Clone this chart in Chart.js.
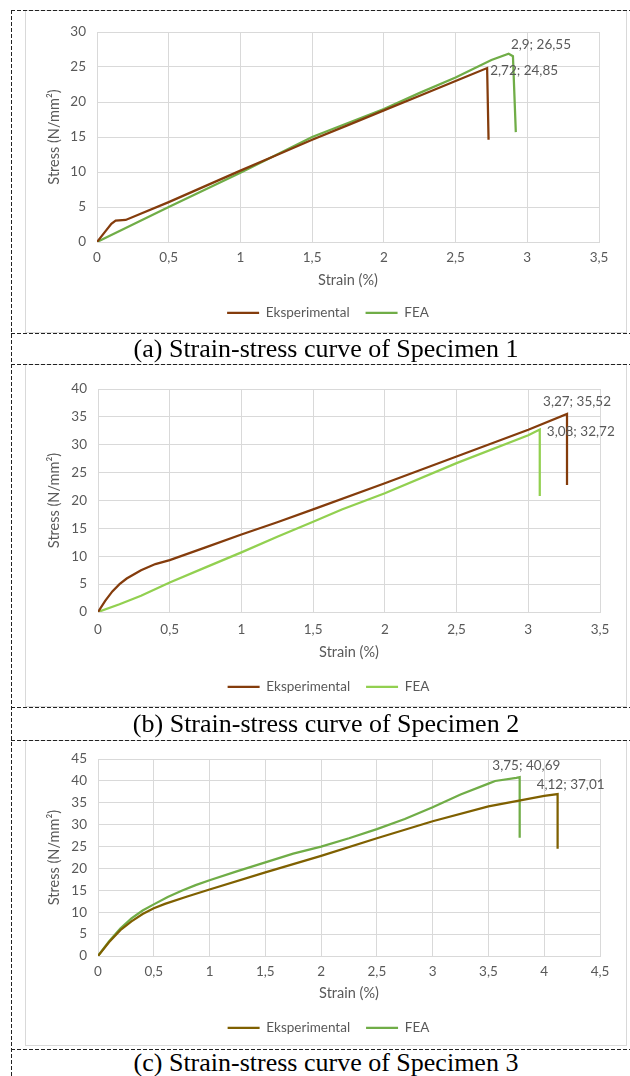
<!DOCTYPE html>
<html>
<head>
<meta charset="utf-8">
<script src="https://cdn.jsdelivr.net/npm/chart.js@4"></script>
<style>
  body { margin: 0; background: #fff; width: 630px; height: 1076px; overflow: hidden; position: relative; }
  .frame { position: absolute; left: 25px; width: 600px; border: 1px solid #d9d9d9; }
  .frame canvas { position: absolute; left: -1px; top: -1px; }
  .hd { position: absolute; left: 11px; width: 619px; height: 1px;
        background: repeating-linear-gradient(to right, #222 0 4px, transparent 4px 6px); }
  .vd { position: absolute; left: 11px; width: 1px; top: 10px; height: 1066px;
        background: repeating-linear-gradient(to bottom, #222 0 4px, transparent 4px 6px); }
  .cap { position: absolute; left: 25px; width: 602px; text-align: center;
         font-family: "Liberation Serif", serif; font-size: 26px; color: #000; }
</style>
</head>
<body>

<div class="frame" style="top:10px;height:321px;"><canvas id="c1" width="602" height="323"></canvas></div>
<div class="frame" style="top:364px;height:341px;"><canvas id="c2" width="602" height="343"></canvas></div>
<div class="frame" style="top:740px;height:304px;"><canvas id="c3" width="602" height="306"></canvas></div>

<div class="vd"></div>
<div class="hd" style="top:10px"></div>
<div class="hd" style="top:333px"></div>
<div class="hd" style="top:364px"></div>
<div class="hd" style="top:707px"></div>
<div class="hd" style="top:740px"></div>
<div class="hd" style="top:1049px"></div>

<div class="cap" style="top:333px;line-height:31px;">(a) Strain-stress curve of Specimen 1</div>
<div class="cap" style="top:708px;line-height:32px;">(b) Strain-stress curve of Specimen 2</div>
<div class="cap" style="top:1049px;line-height:27px;">(c) Strain-stress curve of Specimen 3</div>

<script>
/* ---------- data (strain %, stress N/mm2) ---------- */

// Specimen 1
var strain1Eks = [0, 0.05, 0.1, 0.13, 0.2, 0.3, 0.5, 0.75, 1, 1.25, 1.5, 1.75, 2, 2.25, 2.5, 2.72, 2.73];
var stress1Eks = [0, 1.3, 2.6, 3.05, 3.15, 4.0, 5.7, 7.95, 10.2, 12.4, 14.6, 16.7, 18.8, 20.9, 23.0, 24.85, 14.6];
var strain1Fea = [0, 0.5, 1, 1.5, 2, 2.25, 2.5, 2.75, 2.87, 2.9, 2.92];
var stress1Fea = [0, 5.0, 9.9, 15.0, 19.0, 21.3, 23.5, 26.0, 26.9, 26.55, 15.7];

// Specimen 2
var strain2Eks = [0, 0.05, 0.1, 0.15, 0.2, 0.3, 0.4, 0.5, 0.75, 1, 1.25, 1.5, 2, 2.5, 3, 3.27, 3.27];
var stress2Eks = [0, 2.0, 3.7, 5.0, 6.0, 7.5, 8.6, 9.3, 11.6, 13.9, 16.1, 18.4, 23.1, 27.9, 32.7, 35.52, 22.8];
var strain2Fea = [0, 0.15, 0.3, 0.5, 0.75, 1, 1.25, 1.5, 1.7, 2, 2.5, 3, 3.08, 3.08];
var stress2Fea = [0, 1.4, 2.9, 5.3, 8.0, 10.7, 13.5, 16.2, 18.4, 21.3, 26.7, 31.7, 32.72, 20.8];

// Specimen 3
var strain3Eks = [0, 0.1, 0.2, 0.3, 0.4, 0.5, 0.6, 0.8, 1, 1.5, 2, 2.5, 3, 3.5, 4, 4.12, 4.12];
var stress3Eks = [0, 3.2, 5.9, 7.9, 9.6, 10.9, 11.9, 13.6, 15.2, 19.1, 22.9, 26.9, 30.8, 34.2, 36.6, 37.01, 24.5];
var strain3Fea = [0, 0.1, 0.2, 0.3, 0.4, 0.5, 0.625, 0.75, 0.875, 1, 1.25, 1.5, 1.75, 2, 2.25, 2.5, 2.75, 3, 3.25, 3.5, 3.56, 3.75, 3.78, 3.78];
var stress3Fea = [0, 3.4, 6.3, 8.6, 10.4, 11.8, 13.5, 14.9, 16.2, 17.3, 19.4, 21.4, 23.4, 25.0, 26.9, 29.0, 31.3, 34.0, 36.9, 39.4, 40.0, 40.69, 40.85, 27.0];

var seriesNames = ["Eksperimental", "FEA"];

/* ---------- helpers ---------- */

function pts(xs, ys) {
  return xs.map(function (x, i) { return {x: x, y: ys[i]}; });
}
function comma(v) {
  return String(v).replace(".", ",");
}

var txtColor = "#595959";
var gridColor = "#d9d9d9";
Chart.defaults.font.family = "Lato";

// draws the "x; y" value labels next to the peak points
var peakLabels = {
  id: "peakLabels",
  afterLayout: function (chart, args, opts) {
    // nudge legend to sit centred like the original
    chart.legend.left += opts.legendShift;
    chart.legend.right += opts.legendShift;
  },
  afterDatasetsDraw: function (chart, args, opts) {
    var ctx = chart.ctx;
    ctx.save();
    ctx.font = "13.5px Lato";
    ctx.fillStyle = txtColor;
    ctx.textAlign = "center";
    ctx.textBaseline = "middle";
    opts.items.forEach(function (it) {
      var p = chart.data.datasets[it.ds].data[it.idx];
      var px = chart.scales.x.getPixelForValue(p.x);
      var py = chart.scales.y.getPixelForValue(p.y);
      ctx.fillText(comma(p.x) + "; " + comma(p.y), px + it.dx, py + it.dy);
    });
    ctx.restore();
  }
};

function makeChart(id, eks, fea, colors, xMax, yMax, g, labels) {
  return new Chart(id, {
    type: "scatter",
    data: {
      datasets: [
        {label: seriesNames[0], data: eks, showLine: true, borderColor: colors[0], backgroundColor: colors[0],
         borderWidth: 2.25, pointRadius: 0, tension: 0},
        {label: seriesNames[1], data: fea, showLine: true, borderColor: colors[1], backgroundColor: colors[1],
         borderWidth: 2.25, pointRadius: 0, tension: 0}
      ]
    },
    options: {
      responsive: false,
      animation: false,
      layout: {padding: {top: g.top, right: g.right, bottom: g.bottom, left: 0}},
      scales: {
        x: {
          type: "linear", min: 0, max: xMax,
          ticks: {stepSize: 0.5, color: txtColor, font: {size: 13.5}, padding: g.xTickPad,
                  callback: function (v) { return comma(v); }},
          grid: {color: gridColor, drawTicks: false},
          border: {color: gridColor},
          title: {display: true, text: "Strain (%)", color: txtColor, font: {size: 14.5},
                  padding: {top: 0, bottom: g.xTitlePad}},
          afterFit: function (s) { s.height = g.xHeight; }
        },
        y: {
          min: 0, max: yMax,
          ticks: {stepSize: 5, color: txtColor, font: {size: 13.5}, padding: 11},
          grid: {color: gridColor, drawTicks: false},
          border: {color: gridColor},
          title: {display: true, text: "Stress (N/mm²)", color: txtColor, font: {size: 14.5},
                  padding: {top: 21, bottom: 0}},
          afterFit: function (s) { s.width = g.left; }
        }
      },
      plugins: {
        legend: {
          position: "bottom",
          labels: {usePointStyle: true, pointStyle: "line", pointStyleWidth: 32,
                   color: txtColor, font: {size: 13.5}, padding: 16}
        },
        tooltip: {enabled: false},
        peakLabels: {items: labels, legendShift: 16}
      }
    },
    plugins: [peakLabels]
  });
}

makeChart("c1", pts(strain1Eks, stress1Eks), pts(strain1Fea, stress1Fea),
  ["#843C0C", "#70AD47"], 3.5, 30,
  {top: 22, right: 28, bottom: 3.5, left: 72, xHeight: 48, xTickPad: 8, xTitlePad: 1.3},
  [{ds: 1, idx: 9, dx: 28, dy: -12}, {ds: 0, idx: 15, dx: 37, dy: 3}]);

makeChart("c2", pts(strain2Eks, stress2Eks), pts(strain2Fea, stress2Fea),
  ["#843C0C", "#92D050"], 3.5, 40,
  {top: 25, right: 27, bottom: 3.5, left: 73, xHeight: 52, xTickPad: 10, xTitlePad: 3.3},
  [{ds: 0, idx: 15, dx: 10, dy: -12}, {ds: 1, idx: 12, dx: 41, dy: 2}]);

makeChart("c3", pts(strain3Eks, stress3Eks), pts(strain3Fea, stress3Fea),
  ["#7F6000", "#70AD47"], 4.5, 45,
  {top: 16, right: 27, bottom: 1.5, left: 73, xHeight: 49, xTickPad: 8, xTitlePad: 3.3},
  [{ds: 1, idx: 21, dx: 10, dy: -12}, {ds: 0, idx: 15, dx: 13, dy: -9}]);
</script>
</body>
</html>
